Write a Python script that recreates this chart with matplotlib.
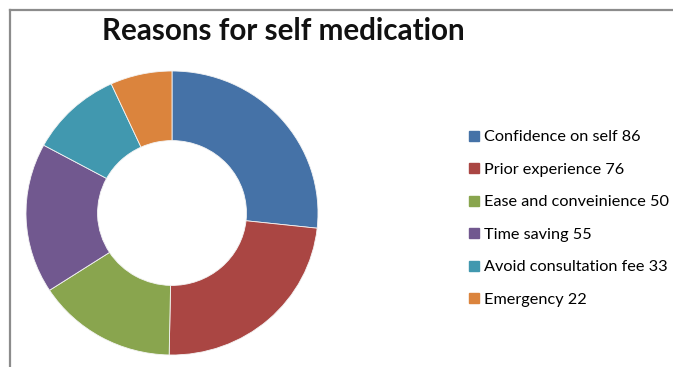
import matplotlib
matplotlib.use("Agg")
import matplotlib.pyplot as plt
from matplotlib.lines import Line2D

reasons = ["Confidence on self", "Prior experience", "Ease and conveinience",
           "Time saving", "Avoid consultation fee", "Emergency"]
counts = [86, 76, 50, 55, 33, 22]
colors = ["#4572A7", "#AA4643", "#89A54E", "#71588F", "#4198AF", "#DB843D"]

W, H = 673, 367
fig = plt.figure(figsize=(W / 100, H / 100), dpi=100)
plt.rcParams["font.family"] = ["Lato", "DejaVu Sans"]

# donut axes, placed in pixels (slightly wider than tall, like the source)
cx, cy, rx, ry = 172, 367 - 213, 146, 142
ax = fig.add_axes([(cx - rx) / W, (cy - ry) / H, 2 * rx / W, 2 * ry / H])
wedges, _ = ax.pie(counts, colors=colors, startangle=90, counterclock=False,
                   radius=1, wedgeprops=dict(width=0.49, edgecolor="#f4f4f4", linewidth=0.6))
ax.set_aspect("auto")
ax.set_xlim(-1, 1)
ax.set_ylim(-1, 1)
ax.axis("off")

fig.text(283 / W, 1 - 31 / H, "Reasons for self medication", ha="center", va="center",
         fontsize=21.3, fontweight="bold", color="#111")

labels = [f"{r} {c}" for r, c in zip(reasons, counts)]
handles = [Line2D([], [], marker="s", linestyle="none", markersize=6.5,
                  markerfacecolor=col, markeredgecolor=col) for col in colors]
fig.legend(handles, labels, loc="upper left", bbox_to_anchor=(469 / W, 1 - 130 / H),
           frameon=False, fontsize=11.7, labelspacing=1.115, handlelength=0.6,
           handletextpad=0.35, borderaxespad=0, borderpad=0)

# chart border (top and left edges visible in the source crop)
fig.add_artist(Line2D([10 / W, 10 / W], [0, 1 - 10 / H], transform=fig.transFigure,
                      color="#8c8c8c", linewidth=1.6))
fig.add_artist(Line2D([10 / W, 1], [1 - 10 / H, 1 - 10 / H], transform=fig.transFigure,
                      color="#8c8c8c", linewidth=1.6))

fig.savefig("out.png", dpi=100)
